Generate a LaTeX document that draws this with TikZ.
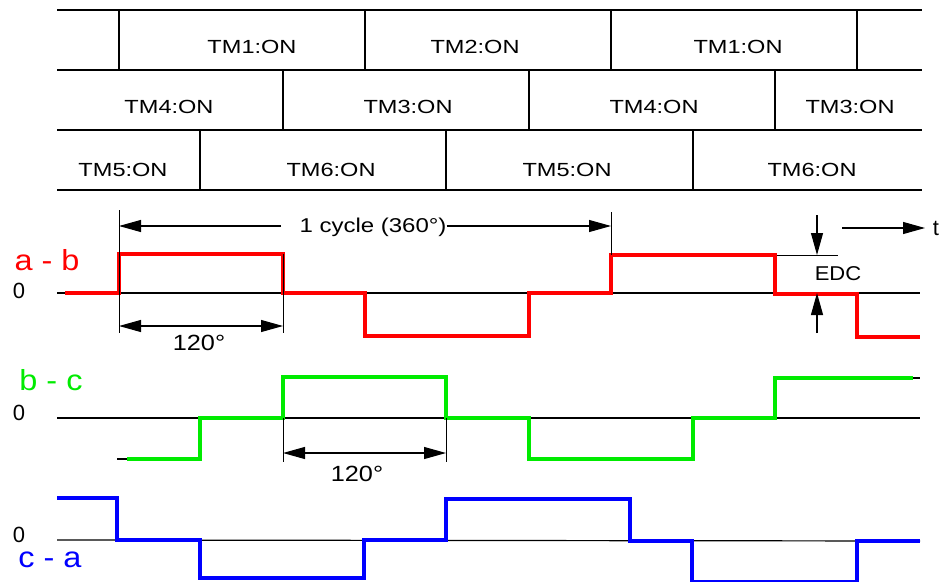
\documentclass[tikz,border=0pt]{standalone}
\usepackage{fontspec}
\setmainfont{Liberation Sans}
\usepackage{graphicx}
\usetikzlibrary{arrows.meta}
\definecolor{wred}{RGB}{255,0,0}
\definecolor{wgreen}{RGB}{0,235,0}
\definecolor{wblue}{RGB}{0,0,255}
\newcommand{\stt}[3]{\scalebox{#1}[1]{\fontsize{#2}{#2}\selectfont #3}}
\begin{document}
\begin{tikzpicture}[x=1pt,y=-1pt,
  grid/.style={line width=1.3pt},
  txt/.style={inner sep=0pt, anchor=base},
  tm/.style={txt},
  base/.style={line width=1.2pt, black},
  sig/.style={line width=3.4pt, line join=miter, line cap=butt},
  dimarrow/.style={line width=1.1pt, -{Triangle[length=22pt,width=12pt]}},
  dimboth/.style={line width=1.1pt, {Triangle[length=22pt,width=12pt]}-{Triangle[length=22pt,width=12pt]}},
  ext/.style={line width=1pt},
]
\useasboundingbox (0,0) rectangle (952,581);

% ---- switching table ----
\foreach \y in {10,70,130,190} \draw[grid] (57,\y) -- (922,\y);
\foreach \x in {119,365,611,857} \draw[grid] (\x,10) -- (\x,70);
\foreach \x in {283,529,775} \draw[grid] (\x,70) -- (\x,130);
\foreach \x in {200,446,693} \draw[grid] (\x,130) -- (\x,190);

\node[tm] (r1a) at (252,53) {\stt{1.24}{19}{TM1:ON}};
\node[tm] (r1b) at (475,53) {\stt{1.24}{19}{TM2:ON}};
\node[tm] (r1c) at (738,53) {\stt{1.24}{19}{TM1:ON}};
\node[tm] (r2a) at (169,113) {\stt{1.24}{19}{TM4:ON}};
\node[tm] (r2b) at (408,113) {\stt{1.24}{19}{TM3:ON}};
\node[tm] (r2c) at (654,113) {\stt{1.24}{19}{TM4:ON}};
\node[tm] (r2d) at (850,113) {\stt{1.24}{19}{TM3:ON}};
\node[tm] (r3a) at (123,176) {\stt{1.24}{19}{TM5:ON}};
\node[tm] (r3b) at (331,176) {\stt{1.24}{19}{TM6:ON}};
\node[tm] (r3c) at (567,176) {\stt{1.24}{19}{TM5:ON}};
\node[tm] (r3d) at (812,176) {\stt{1.24}{19}{TM6:ON}};

% ---- labels ----
\node[txt, text=wred] (lab) at (47,270) {\stt{1.12}{29}{a - b}};
\node[txt, text=wgreen] (lbc) at (51,390) {\stt{1.12}{29}{b - c}};
\node[txt, text=wblue] (lca) at (50,567) {\stt{1.12}{29}{c - a}};
\node[txt] (z1) at (19,298) {\stt{1}{22}{0}};
\node[txt] (z2) at (19,420) {\stt{1}{22}{0}};
\node[txt] (z3) at (19,542) {\stt{1}{22}{0}};

% ---- a - b ----
\draw[base] (57,293) -- (920,293);
\draw[base] (57,293) -- (119,293) -- (119,254) -- (283,254) -- (283,293) -- (365,293) -- (365,336) -- (529,336) -- (529,293) -- (611,293) -- (611,255) -- (775,255) -- (775,294) -- (857,294) -- (857,337) -- (920,337);
\draw[ext] (775,255) -- (838,255);
\draw[sig, wred] (65,293) -- (119,293) -- (119,254) -- (283,254) -- (283,293) -- (365,293) -- (365,336) -- (529,336) -- (529,293) -- (611,293) -- (611,255) -- (775,255) -- (775,294) -- (857,294) -- (857,337) -- (920,337);

% 1 cycle dimension
\draw[ext] (119,210) -- (119,333);
\draw[ext] (283,254) -- (283,333);
\draw[ext] (611,212) -- (611,255);
\node[txt] (cyc) at (373,232) {\stt{1.2}{20}{1 cycle (360°)}};
\coordinate (cL) at (119,226);
\coordinate (cR) at (611,226);
\coordinate (cLs) at (281,226);
\draw[dimarrow] (cLs) -- (cL);
\draw[dimarrow] (cyc.east |- cR) -- (cR);

% 120 deg (a-b)
\coordinate (d1a) at (119,326);
\coordinate (d1b) at (283,326);
\draw[dimboth] (d1a) -- (d1b);
\node[txt] (deg1) at (199,350) {\stt{1.15}{22}{120°}};

% EDC
\coordinate (e1t) at (817,215);
\coordinate (e1h) at (817,255);
\coordinate (e2t) at (817,333);
\coordinate (e2h) at (817,293);
\draw[dimarrow] (e1t) -- (e1h);
\draw[dimarrow] (e2t) -- (e2h);
\node[txt] (edc) at (838,280) {\stt{1.1}{20}{EDC}};

% time arrow
\node[txt] (tl) at (936,235) {\stt{1}{22}{t}};
\coordinate (ts) at (842,228);
\coordinate (te) at (925,228);
\draw[dimarrow] (ts) -- (te);

% ---- b - c ----
\draw[base] (57,418) -- (920,418);
\draw[base] (117,459) -- (200,459) -- (200,418) -- (283,418) -- (283,377) -- (446,377) -- (446,418) -- (529,418) -- (529,459) -- (693,459) -- (693,418) -- (775,418) -- (775,378) -- (920,378);
\draw[sig, wgreen] (127,459) -- (200,459) -- (200,418) -- (283,418) -- (283,377) -- (446,377) -- (446,418) -- (529,418) -- (529,459) -- (693,459) -- (693,418) -- (775,418) -- (775,378) -- (913,378);

% 120 deg (b-c)
\draw[ext] (283,418) -- (283,462);
\draw[ext] (446,418) -- (446,462);
\coordinate (d2a) at (283,453);
\coordinate (d2b) at (446,453);
\draw[dimboth] (d2a) -- (d2b);
\node[txt] (deg2) at (357,481) {\stt{1.15}{22}{120°}};

% ---- c - a ----
\draw[base] (57,540) -- (920,541);
\draw[sig, wblue] (57,498) -- (117,498) -- (117,540) -- (200,540) -- (200,578) -- (364,578) -- (364,540) -- (446,540) -- (446,499) -- (630,499) -- (630,541) -- (692,541) -- (692,582) -- (857,582) -- (857,541) -- (920,541);
\end{tikzpicture}
\end{document}
